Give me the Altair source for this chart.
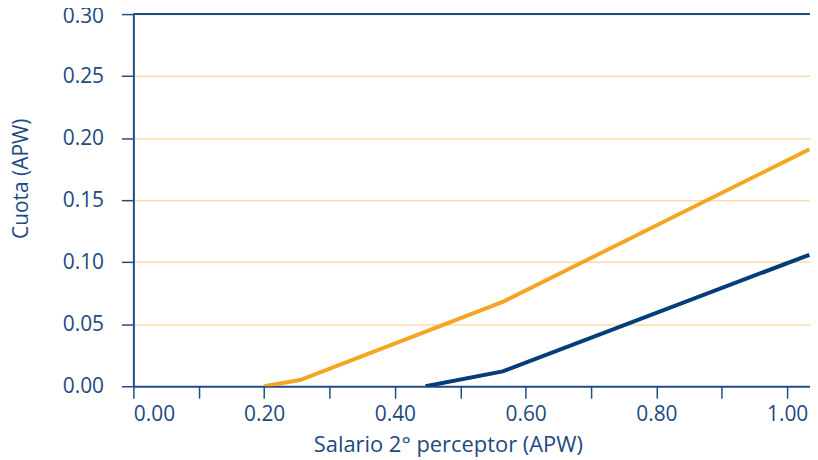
import altair as alt
import pandas as pd

# Data
orange_x = [0.20, 0.255, 0.565, 1.034]
orange_y = [0.000, 0.005, 0.068, 0.191]
blue_x = [0.447, 0.565, 1.034]
blue_y = [0.000, 0.012, 0.106]

x_ticks = [0.0, 0.1, 0.2, 0.3, 0.4, 0.5, 0.6, 0.7, 0.8, 0.9, 1.0]
y_ticks = [0.00, 0.05, 0.10, 0.15, 0.20, 0.25, 0.30]

rows = []
for i, (x, y) in enumerate(zip(orange_x, orange_y)):
    rows.append({"serie": "A", "x": x, "y": y, "o": i})
for i, (x, y) in enumerate(zip(blue_x, blue_y)):
    rows.append({"serie": "B", "x": x, "y": y, "o": i})
df = pd.DataFrame(rows)

TEXT = "#1d4a80"
AXIS = "#1f4e86"
FONT = "Open Sans"

xscale = alt.Scale(domain=[0, 1.035], nice=False, zero=False)
yscale = alt.Scale(domain=[0, 0.30], nice=False)

lines = alt.Chart(df).mark_line(strokeWidth=4, strokeCap="butt", clip=True).encode(
    x=alt.X("x:Q", scale=xscale,
            axis=alt.Axis(values=x_ticks, title="Salario 2° perceptor (APW)",
                          labelExpr="round(datum.value*10) % 2 == 0 ? format(datum.value, '.2f') : ''",
                          grid=False, tickSize=12, tickColor=AXIS, tickWidth=1.5,
                          domainColor=AXIS, domainWidth=2, labelPadding=5,
                          labelFont=FONT, labelFontSize=21, labelColor=TEXT,
                          titleFont=FONT, titleFontSize=22, titleColor=TEXT,
                          titleFontWeight="normal",
                          titleX=316, titleY=66, titleAnchor="start",
                          titleAlign="center", titleBaseline="alphabetic")),
    y=alt.Y("y:Q", scale=yscale,
            axis=alt.Axis(values=y_ticks, format=".2f", title="Cuota (APW)",
                          grid=True, gridColor="#fddcaa", gridWidth=1.5,
                          tickSize=12, tickColor=AXIS, tickWidth=1.5,
                          domainColor=AXIS, domainWidth=2, labelPadding=18,
                          labelFont=FONT, labelFontSize=21, labelColor=TEXT,
                          labelOffset={"condition": {"test": "datum.value >= 0.29", "value": 2}, "value": 0},
                          titleFont=FONT, titleFontSize=21, titleColor=TEXT,
                          titleFontWeight="normal",
                          titleX=-112, titleY=165, titleAnchor="start",
                          titleAlign="center", titleBaseline="middle", titleAngle=270)),
    color=alt.Color("serie:N", scale=alt.Scale(domain=["A", "B"], range=["#f6a523", "#033d7a"]),
                    legend=None),
    detail="serie:N",
    order="o:Q",
)

top = alt.Chart(pd.DataFrame({"y": [0.30]})).mark_rule(color=AXIS, strokeWidth=2).encode(
    y=alt.Y("y:Q", scale=yscale)
)

chart = alt.layer(top, lines).properties(
    width=680, height=374,
    autosize=alt.AutoSizeParams(type="none"),
    padding={"left": 126, "top": 5, "right": 0, "bottom": 72},
).configure_view(stroke=None)

chart.save("out.html", embed_options={"renderer": "svg", "actions": False})
